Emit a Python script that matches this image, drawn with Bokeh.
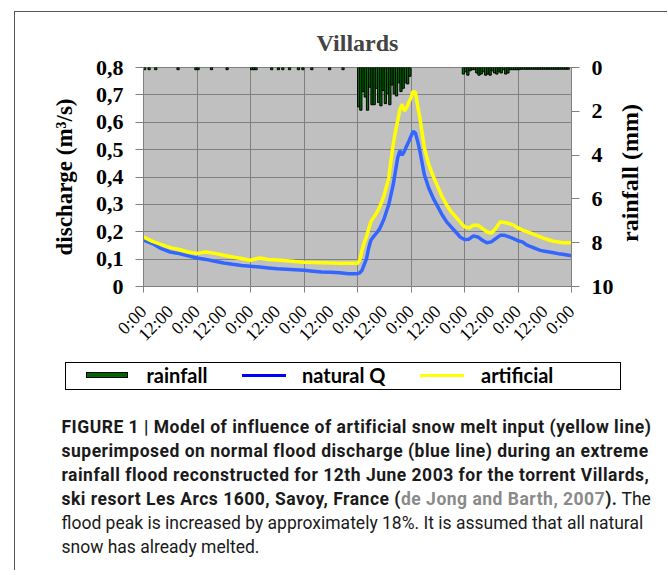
import math
from bokeh.plotting import figure
from bokeh.models import (Range1d, LinearAxis, FixedTicker, Div)
from bokeh.layouts import column
from bokeh.embed import file_html
from bokeh.resources import INLINE

# ---------------- data ----------------
hours = [0, 4, 8, 12, 16, 20, 24, 28, 32, 36, 40, 44, 48, 52, 56, 60, 64, 68, 72, 76, 80, 84, 88, 92, 96,
         97, 98, 99, 100, 101, 102, 103, 104, 105, 106, 107, 108, 109, 110, 111, 112, 113, 114, 115, 116,
         117, 118, 119, 120, 121, 122, 123, 124,
         126, 128, 130, 132, 134, 136, 138, 140, 142, 144, 146, 148, 150, 152, 154, 156, 158, 160, 162,
         164, 166, 168, 170, 172, 174, 176, 178, 180, 182, 184, 186, 188, 190, 192]

natural_q = [0.170, 0.157, 0.138, 0.126, 0.120, 0.112, 0.104, 0.099, 0.092, 0.086, 0.081, 0.077, 0.074,
             0.071, 0.068, 0.065, 0.063, 0.061, 0.059, 0.056, 0.053, 0.052, 0.050, 0.047, 0.047,
             0.050, 0.059, 0.080, 0.100, 0.140, 0.169, 0.180, 0.190, 0.200, 0.212, 0.230, 0.249, 0.275,
             0.298, 0.335, 0.371, 0.420, 0.469, 0.496, 0.480, 0.494, 0.512, 0.530, 0.549, 0.567, 0.560,
             0.530, 0.494,
             0.408, 0.359, 0.322, 0.292, 0.261, 0.236, 0.218, 0.200, 0.181, 0.172, 0.173, 0.185, 0.181,
             0.169, 0.160, 0.163, 0.175, 0.187, 0.187, 0.181, 0.175, 0.167, 0.163, 0.151, 0.145, 0.138,
             0.132, 0.129, 0.126, 0.123, 0.120, 0.118, 0.115, 0.112]

artificial = [0.181, 0.165, 0.153, 0.142, 0.135, 0.126, 0.121, 0.126, 0.121, 0.114, 0.108, 0.102, 0.096,
              0.104, 0.099, 0.097, 0.094, 0.091, 0.089, 0.088, 0.087, 0.086, 0.085, 0.085, 0.085,
              0.096, 0.132, 0.160, 0.181, 0.210, 0.236, 0.250, 0.261, 0.275, 0.292, 0.312, 0.335, 0.365,
              0.396, 0.460, 0.518, 0.565, 0.604, 0.647, 0.666, 0.641, 0.653, 0.672, 0.690, 0.714, 0.708,
              0.660, 0.616,
              0.506, 0.445, 0.402, 0.365, 0.328, 0.298, 0.273, 0.255, 0.236, 0.218, 0.214, 0.224, 0.224,
              0.212, 0.200, 0.194, 0.212, 0.236, 0.234, 0.230, 0.224, 0.214, 0.206, 0.200, 0.194, 0.188,
              0.181, 0.175, 0.170, 0.165, 0.163, 0.160, 0.160, 0.160]

rain_hour = [0, 2, 5, 15, 23, 24, 30, 37, 48, 49, 50, 57, 60, 62, 65, 69, 71, 75, 83, 89,
             96, 97, 98, 99, 100, 101, 102, 103, 104, 105, 106, 107, 108, 109, 110, 111, 112, 113,
             114, 115, 116, 117, 118, 119,
             143, 144, 145, 146, 147, 148, 149, 150, 151, 152, 153, 154, 155, 156, 157, 158, 159,
             160, 161, 162, 163, 164, 165, 166, 167, 168,
             169, 170, 171, 172, 173, 174, 175, 176, 177, 178, 179, 180, 181, 182, 183, 184, 185,
             186, 187, 188, 189, 190]
rain_mm = [0.1, 0.1, 0.1, 0.1, 0.1, 0.1, 0.1, 0.1, 0.1, 0.1, 0.1, 0.1, 0.1, 0.1, 0.1, 0.1, 0.1, 0.1,
           0.1, 0.1,
           1.8, 1.95, 1.1, 1.35, 1.95, 0.9, 1.7, 1.7, 0.95, 1.6, 1.75, 1.05, 1.65, 1.2, 1.7, 0.8, 1.2,
           1.3, 0.7, 1.1, 0.95, 0.7, 0.75, 0.4,
           0.3, 0.2, 0.35, 0.15, 0.1, 0.1, 0.25, 0.35, 0.3, 0.2, 0.35, 0.3, 0.35, 0.15, 0.25, 0.3,
           0.2, 0.25, 0.1, 0.3, 0.25, 0.1, 0.1, 0.1, 0.1, 0.1,
           0.08, 0.08, 0.08, 0.08, 0.08, 0.08, 0.08, 0.08, 0.08, 0.08, 0.08, 0.08, 0.08, 0.08, 0.08,
           0.08, 0.08, 0.08, 0.08, 0.08, 0.08, 0.08]

x_tick_hours = [0, 12, 24, 36, 48, 60, 72, 84, 96, 108, 120, 132, 144, 156, 168, 180, 192]
x_tick_labels = ["0:00", "12:00", "0:00", "12:00", "0:00", "12:00", "0:00", "12:00", "0:00",
                 "12:00", "0:00", "12:00", "0:00", "12:00", "0:00", "12:00", "0:00"]
day_hours = [0, 24, 48, 72, 96, 120, 144, 168, 192]
q_ticks = [0, 0.1, 0.2, 0.3, 0.4, 0.5, 0.6, 0.7, 0.8]
q_tick_labels = ["0", "0,1", "0,2", "0,3", "0,4", "0,5", "0,6", "0,7", "0,8"]
rain_ticks = [0, 2, 4, 6, 8, 10]
legend_labels = ["rainfall", "natural Q", "artificial"]
legend_colors = ["#006600", "#0000FF", "#FFFF00"]
rain_axis_title = "rainfall (mm)"

SERIF = "Liberation Serif"
GRAY = "#808080"

# ---------------- main chart ----------------
p = figure(width=652, height=345, toolbar_location=None, output_backend="svg",
           x_range=Range1d(0, 192), y_range=Range1d(0, 0.8),
           min_border_left=128, min_border_right=96, min_border_top=55, min_border_bottom=71,
           background_fill_color="#C0C0C0", border_fill_color="white", title="Villards")
p.extra_y_ranges = {"rain": Range1d(start=10, end=0)}
p.outline_line_color = GRAY

p.title.text_font = SERIF
p.title.text_font_size = "24px"
p.title.text_font_style = "bold"
p.title.align = "center"
p.title.standoff = 23

# bottom axis
xa = p.xaxis[0]
xa.ticker = FixedTicker(ticks=x_tick_hours, minor_ticks=day_hours)
xa.major_label_overrides = {h: lab for h, lab in zip(x_tick_hours, x_tick_labels)}
xa.major_label_orientation = math.pi / 4
xa.major_label_text_font = SERIF
xa.major_label_text_font_size = "18px"
xa.major_label_text_color = "black"
xa.major_label_standoff = 16
xa.major_tick_out = 0
xa.major_tick_in = 0
xa.minor_tick_out = 6
xa.minor_tick_in = 0
xa.minor_tick_line_color = GRAY
xa.axis_line_color = GRAY

# left axis
ya = p.yaxis[0]
ya.ticker = FixedTicker(ticks=q_ticks)
ya.major_label_overrides = {v: lab for v, lab in zip(q_ticks, q_tick_labels)}
ya.major_label_text_font = SERIF
ya.major_label_text_font_size = "22px"
ya.major_label_text_font_style = "bold"
ya.major_label_text_color = "black"
ya.major_label_standoff = 12
ya.major_tick_out = 8
ya.major_tick_in = 0
ya.major_tick_line_color = GRAY
ya.minor_tick_line_color = None
ya.axis_line_color = GRAY
ya.axis_label = "discharge (m³/s)"
ya.axis_label_text_font = SERIF
ya.axis_label_text_font_size = "23px"
ya.axis_label_text_font_style = "bold"
ya.axis_label_text_color = "black"
ya.axis_label_standoff = 16

# right axis (its title is set in the page below, reading bottom-to-top)
ra = LinearAxis(y_range_name="rain", ticker=FixedTicker(ticks=rain_ticks))
ra.major_label_text_font = SERIF
ra.major_label_text_font_size = "22px"
ra.major_label_text_font_style = "bold"
ra.major_label_text_color = "black"
ra.major_label_standoff = 12
ra.major_tick_out = 8
ra.major_tick_in = 0
ra.major_tick_line_color = GRAY
ra.minor_tick_line_color = None
ra.axis_line_color = GRAY
p.add_layout(ra, "right")

# grids
p.xgrid.ticker = FixedTicker(ticks=day_hours)
p.xgrid.grid_line_color = GRAY
p.ygrid.grid_line_color = GRAY

# marks
p.vbar(x=[h + 0.5 for h in rain_hour], width=1, top=0, bottom=rain_mm, y_range_name="rain",
       fill_color="#007000", line_color="black", line_width=1)
p.line(hours, natural_q, line_color="#3366FF", line_width=3.5)
p.line(hours, artificial, line_color="#FFFF00", line_width=3.5)

# ---------------- legend (boxed, below the chart) + right axis title ----------------
TXT = ("position:absolute; top:0; line-height:25px; font-family:Lato, 'Liberation Sans', sans-serif; "
       "font-weight:bold; font-size:20px; color:#000;")
legend_html = (
    '<div style="position:relative; width:652px; height:33px; overflow:visible;">'
    f'<div style="position:absolute; left:614.5px; top:-184.5px; transform:translate(-50%,-50%) rotate(-90deg); '
    f'white-space:nowrap; font-family:\'Liberation Serif\', serif; font-weight:bold; font-size:24px; '
    f'line-height:26px; color:#000;">{rain_axis_title}</div>'
    '<div style="position:absolute; left:49.5px; top:4.5px; width:556px; height:28px; '
    'box-sizing:border-box; border:1.5px solid #000; background:#fff;">'
    f'<div style="position:absolute; left:20px; top:9.5px; width:42px; height:6px; box-sizing:border-box; '
    f'background:{legend_colors[0]}; border:1px solid #000;"></div>'
    f'<div style="{TXT} left:81px;">{legend_labels[0]}</div>'
    f'<div style="position:absolute; left:176.5px; top:11px; width:44px; height:3px; '
    f'background:{legend_colors[1]};"></div>'
    f'<div style="{TXT} left:236.5px;">{legend_labels[1]}</div>'
    f'<div style="position:absolute; left:354.5px; top:11px; width:44px; height:3px; '
    f'background:{legend_colors[2]};"></div>'
    f'<div style="{TXT} left:415.5px;">{legend_labels[2]}</div>'
    '</div></div>')
legend_div = Div(text=legend_html, width=652, height=33, margin=0,
                 styles={"overflow": "visible", "z-index": "5"})

# ---------------- caption ----------------
B = '<b style="letter-spacing:0.5px">'
caption = Div(text=(
    '<div style="font-family: Roboto, \'Liberation Sans\', sans-serif; font-size:17.5px; '
    'line-height:24px; color:#1a1a1a; padding-left:46.5px; padding-top:25px; white-space:nowrap;">'
    + B + 'FIGURE 1 | Model of influence of artificial snow melt input (yellow line)</b><br>'
    + B + 'superimposed on normal flood discharge (blue line) during an extreme</b><br>'
    + B + 'rainfall flood reconstructed for 12th June 2003 for the torrent Villards,</b><br>'
    + B + 'ski resort Les Arcs 1600, Savoy, France (<span style="color:#8a8a8a">de Jong and Barth, 2007</span>).</b> The<br>'
    'flood peak is increased by approximately 18%. It is assumed that all natural<br>'
    'snow has already melted.'
    '</div>'), width=652, height=180, margin=0)

layout = column(p, legend_div, caption, margin=(11, 0, 0, 14),
                styles={"border-left": "1.5px solid #555555", "border-top": "1.5px solid #555555"})

open("out.html", "w").write(file_html(layout, INLINE))
